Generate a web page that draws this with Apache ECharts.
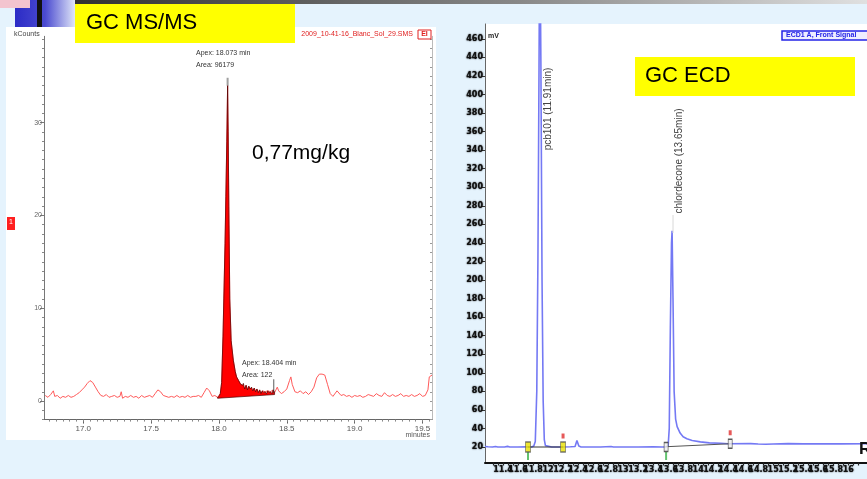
<!DOCTYPE html>
<html>
<head>
<meta charset="utf-8">
<script src="https://cdn.jsdelivr.net/npm/echarts@6.0.0/dist/echarts.min.js"></script>
<style>
html,body{margin:0;padding:0;background:#e5f3fd;}
#c{width:867px;height:479px;}
</style>
</head>
<body>
<div id="c"></div>
<script>
// ---------------- GC MS/MS trace (minutes, kCounts) ----------------
const msTime = [16.72,16.74,16.76,16.78,16.79,16.81,16.83,16.85,16.87,16.89,16.91,16.93,16.95,16.97,16.99,17.01,17.03,17.05,17.07,17.09,17.11,17.13,17.15,17.17,17.19,17.21,17.23,17.25,17.27,17.28,17.29,17.31,17.33,17.35,17.37,17.39,17.41,17.43,17.44,17.45,17.47,17.49,17.51,17.53,17.55,17.57,17.59,17.61,17.63,17.65,17.67,17.69,17.71,17.73,17.75,17.77,17.79,17.81,17.83,17.85,17.87,17.89,17.91,17.93,17.95,17.97,17.99,
18.00,18.01,18.02,18.03,18.036,18.045,18.051,18.058,18.064,18.068,18.073,18.08,18.09,18.106,18.12,18.13,18.145,18.16,18.175,18.18,18.19,18.20,18.21,18.22,18.23,18.24,18.25,18.26,18.27,18.28,18.29,18.30,18.31,18.32,18.33,18.34,18.35,18.36,18.37,18.38,18.39,18.40,18.41,
18.42,18.43,18.44,18.46,18.48,18.50,18.52,18.53,18.54,18.56,18.58,18.60,18.62,18.64,18.66,18.68,18.70,18.72,18.74,18.76,18.78,18.80,18.82,18.84,18.87,18.88,18.90,18.92,18.94,18.96,18.98,19.00,19.02,19.04,19.06,19.08,19.10,19.12,19.14,19.16,19.18,19.20,19.22,19.24,19.26,19.28,19.30,19.32,19.34,19.36,19.38,19.40,19.42,19.44,19.46,19.48,19.50,19.52,19.54,19.55,19.57];
const msSignal = [0.6,0.4,0.7,1.1,0.5,0.6,0.3,0.5,0.4,0.6,0.4,0.5,0.7,0.9,1.2,1.5,1.9,2.2,2.0,1.5,1.0,0.6,0.5,0.7,0.4,0.5,0.6,0.4,0.5,1.0,0.3,0.5,0.4,0.6,0.4,0.5,0.3,0.6,0.8,0.4,0.5,0.6,0.4,0.8,1.2,1.0,0.6,0.5,0.4,0.5,0.4,0.6,0.4,0.5,0.4,0.6,0.4,0.5,0.5,0.6,0.4,0.9,1.4,1.1,0.5,0.6,0.4,
0.5,0.8,2.0,7.0,11,17,22,28,34,29,21,11,6.5,4.4,3.2,2.6,2.2,1.8,1.7,1.9,1.3,1.7,1.2,1.6,1.3,1.5,1.1,1.4,1.0,1.3,0.9,1.2,0.8,1.1,0.9,1.0,0.8,1.1,0.9,1.0,0.8,1.2,0.9,
0.7,1.5,1.1,0.8,1.0,1.3,2.2,2.6,1.8,1.0,0.9,1.1,0.8,1.0,0.7,1.0,1.5,2.5,2.9,2.9,2.8,1.8,0.8,0.5,1.1,0.9,0.6,0.7,0.5,0.6,0.4,0.6,0.5,0.6,0.4,0.5,0.7,0.6,0.5,0.8,0.6,0.5,0.9,0.6,0.5,0.7,0.5,0.6,0.8,0.5,0.6,0.5,0.7,0.5,0.6,0.8,0.5,0.6,1.2,2.6,2.8,2.7];
const msPeakRange = [17.99, 18.41];
const msIntegrationBase = [[18.41, 0.7], [17.99, 0.3]];
const msApex = [[18.064, 34.4]];
const msApex2 = [[18.404, 1.6]];
const msXLabels = [17.0, 17.5, 18.0, 18.5, 19.0, 19.5];
const msYLabels = [0, 10, 20, 30];

// ---------------- GC ECD trace (minutes, signal) ----------------
const ecdTime = [11.16,11.20,11.26,11.30,11.33,11.42,11.46,11.49,11.60,11.70,11.78,11.81,11.83,11.85,11.865,11.88,11.89,11.905,11.92,11.935,11.95,11.965,11.98,12.05,12.20,12.30,12.36,12.385,12.41,12.44,12.70,12.84,12.87,13.20,13.40,13.52,13.56,13.60,13.615,13.63,13.645,13.653,13.665,13.68,13.70,13.72,13.76,13.80,13.85,13.92,14.03,14.15,14.30,14.40,14.70,14.80,14.90,15.00,15.20,15.40,15.60,15.90,16.25];
const ecdSignal = [20.6,20.2,20,20.6,20,20,20.7,20,20,20.2,20,21,26,80,220,430,600,430,200,70,28,21.5,20.4,20,20,20.2,20.5,27,21,20,20,20.6,20,20,20.3,20,20,21,40,150,240,253,180,80,50,42,35,31,29,27,25.5,24.5,24,23.5,23.6,23.2,23.0,23.2,23.6,23.4,23.5,23.4,23.5];
const ecdPeakNames = ['pcb101 (11.91min)', 'chlordecone (13.65min)'];
const ecdStartMarks = [[11.733, 20], [13.573, 20]];
const ecdEndMarks = [[12.2, 20], [14.427, 23.5]];
const ecdBase1 = [[11.733, 20], [12.2, 20]];
const ecdBase2 = [[13.573, 20.3], [14.427, 23.5]];
const ecdXLabels = [11.2,11.4,11.6,11.8,12.0,12.2,12.4,12.6,12.8,13.0,13.2,13.4,13.6,13.8,14.0,14.2,14.4,14.6,14.8,15.0,15.2,15.4,15.6,15.8,16.0,16.2];
const ecdYLabels = [20,40,60,80,100,120,140,160,180,200,220,240,260,280,300,320,340,360,380,400,420,440,460];

// tick helpers (positions of ruler ticks only)
function range(a, b, step) { const r = []; for (let v = a; v <= b + 1e-9; v += step) r.push(+v.toFixed(4)); return r; }
const msXMinor = range(16.75, 19.55, 0.05);
const msYMinor = range(-2, 39, 1);
const ecdXMinor = range(11.2, 16.25, 0.2 / 3);

const msData = msTime.map((t, i) => [t, msSignal[i]]);
const ecdData = ecdTime.map((t, i) => [t, ecdSignal[i]]);
const fillT = [], fillV = [];
msTime.forEach((t, i) => { if (t >= msPeakRange[0] - 1e-9 && t <= msPeakRange[1] + 1e-9) { fillT.push(t); fillV.push(msSignal[i]); } });
msIntegrationBase.forEach(p => { fillT.push(p[0]); fillV.push(p[1]); });

const FONT = 'Liberation Sans, Arial, sans-serif';
const smudge = { fontFamily: 'DejaVu Sans', fontWeight: 900, color: '#111', textShadowColor: '#000', textShadowBlur: 1.5 };

const chart = echarts.init(document.getElementById('c'), null, { renderer: 'canvas' });
chart.setOption({
  backgroundColor: '#e5f3fd',
  animation: false,
  grid: [
    { left: 44, top: 36.3, width: 388, height: 383.3, outerBoundsMode: 'none', containLabel: false },
    { left: 485, top: 24, width: 382, height: 438.5, outerBoundsMode: 'none', containLabel: false }
  ],
  xAxis: [
    { gridIndex: 0, type: 'value', position: 'bottom', min: 16.711, max: 19.57,
      axisLine: { show: true, onZero: false, lineStyle: { color: '#666', width: 1 } },
      axisTick: { show: true, customValues: msXLabels, length: 4, lineStyle: { color: '#666' } },
      axisLabel: { customValues: msXLabels, formatter: v => v.toFixed(1), fontSize: 8, color: '#555', margin: 5, fontFamily: FONT },
      splitLine: { show: false } },
    { gridIndex: 0, type: 'value', position: 'bottom', min: 16.711, max: 19.57,
      axisLine: { show: false, onZero: false }, axisLabel: { show: false }, splitLine: { show: false },
      axisTick: { show: true, customValues: msXMinor, length: 2, lineStyle: { color: '#888' } } },
    { gridIndex: 1, type: 'value', position: 'bottom', min: 11.16, max: 16.25,
      axisLine: { show: true, onZero: false, lineStyle: { color: '#111', width: 2 } },
      axisTick: { show: true, customValues: ecdXMinor, length: 3, lineStyle: { color: '#222', width: 1.2 } },
      axisLabel: Object.assign({ customValues: ecdXLabels, formatter: v => String(+v.toFixed(1)), fontSize: 8, margin: 3, hideOverlap: false }, smudge),
      splitLine: { show: false } }
  ],
  yAxis: [
    { gridIndex: 0, type: 'value', position: 'left', min: -2, max: 39.3,
      axisLine: { show: true, onZero: false, lineStyle: { color: '#777' } },
      axisTick: { show: true, customValues: msYMinor, length: 2, lineStyle: { color: '#888' } },
      axisLabel: { show: false }, splitLine: { show: false } },
    { gridIndex: 0, type: 'value', position: 'left', min: -2, max: 39.3,
      axisLine: { show: false, onZero: false },
      axisTick: { show: true, customValues: msYLabels, length: 4, lineStyle: { color: '#777' } },
      axisLabel: { customValues: msYLabels, fontSize: 7, color: '#666', margin: 2, fontFamily: FONT },
      splitLine: { show: false } },
    { gridIndex: 0, type: 'value', position: 'right', min: -2, max: 39.3,
      axisLine: { show: true, onZero: false, lineStyle: { color: '#bbb' } },
      axisTick: { show: true, inside: true, customValues: msYMinor, length: 2, lineStyle: { color: '#999' } },
      axisLabel: { show: false }, splitLine: { show: false } },
    { gridIndex: 1, type: 'value', position: 'left', min: 3.3, max: 476,
      axisLine: { show: true, onZero: false, lineStyle: { color: '#555', type: 'dotted' } },
      axisTick: { show: true, customValues: ecdYLabels, length: 3, lineStyle: { color: '#333' } },
      axisLabel: Object.assign({ customValues: ecdYLabels, fontSize: 8, margin: 2 }, smudge),
      splitLine: { show: false } }
  ],
  series: [
    { name: 'ms-fill', type: 'custom', xAxisIndex: 0, yAxisIndex: 0, data: [[fillT[0], fillV[0]]], z: 3, clip: true,
      renderItem: function (params, api) {
        const pts = fillT.map((t, i) => api.coord([t, fillV[i]]));
        return { type: 'polygon', shape: { points: pts }, style: { fill: '#ff0000', stroke: '#4a0000', lineWidth: 0.7 } };
      } },
    { name: 'ms', type: 'line', xAxisIndex: 0, yAxisIndex: 0, data: msData, symbol: 'none', z: 2,
      lineStyle: { color: '#ff5a5a', width: 1 } },
    { type: 'scatter', xAxisIndex: 0, yAxisIndex: 0, data: msApex, symbol: 'rect', symbolSize: [2, 8], itemStyle: { color: '#888' }, z: 5 },
    { type: 'scatter', xAxisIndex: 0, yAxisIndex: 0, data: msApex2, symbol: 'rect', symbolSize: [1, 14], itemStyle: { color: '#333' }, z: 5 },

    { name: 'ecd', type: 'line', xAxisIndex: 2, yAxisIndex: 3, data: ecdData, symbol: 'none', z: 2, clip: true,
      lineStyle: { color: '#7479f4', width: 1.6 } },
    { type: 'line', xAxisIndex: 2, yAxisIndex: 3, data: ecdBase1, symbol: 'none', z: 3, lineStyle: { color: '#333', width: 1 } },
    { type: 'line', xAxisIndex: 2, yAxisIndex: 3, data: ecdBase2, symbol: 'none', z: 3, lineStyle: { color: '#555', width: 1 } },
    { type: 'scatter', xAxisIndex: 2, yAxisIndex: 3, data: ecdStartMarks, symbol: 'rect', symbolSize: [2, 8], symbolOffset: [0, 9], itemStyle: { color: '#3cb44b' }, z: 4 },
    { type: 'scatter', xAxisIndex: 2, yAxisIndex: 3, data: ecdEndMarks, symbol: 'rect', symbolSize: [3, 5], symbolOffset: [0, -11], itemStyle: { color: '#e03030' }, z: 4 },
    { type: 'scatter', xAxisIndex: 2, yAxisIndex: 3, data: [ecdStartMarks[0], ecdEndMarks[0]], symbol: 'rect', symbolSize: [5, 10], itemStyle: { color: '#e8e000', borderColor: '#555', borderWidth: 1 }, z: 5 },
    { type: 'scatter', xAxisIndex: 2, yAxisIndex: 3, data: [ecdStartMarks[1], ecdEndMarks[1]], symbol: 'rect', symbolSize: [4, 9], itemStyle: { color: '#eee', borderColor: '#333', borderWidth: 1 }, z: 5 }
  ],
  graphic: [
    { type: 'rect', silent: true, z: -10, shape: { x: 0, y: 0, width: 867, height: 4 },
      style: { fill: new echarts.graphic.LinearGradient(0, 0, 1, 0, [{ offset: 0, color: '#222' }, { offset: 0.6, color: '#888' }, { offset: 1, color: '#e0e0e0' }]) } },
    { type: 'rect', silent: true, z: -9, shape: { x: 15, y: 0, width: 60, height: 27 },
      style: { fill: new echarts.graphic.LinearGradient(0, 0, 1, 0, [{ offset: 0, color: '#2b2bc6' }, { offset: 0.5, color: '#4a4ad0' }, { offset: 1, color: '#e0e6f8' }]) } },
    { type: 'rect', silent: true, z: -8, shape: { x: 0, y: 0, width: 30, height: 8 }, style: { fill: '#f3c4cf' } },
    { type: 'rect', silent: true, z: -8, shape: { x: 37, y: 0, width: 5, height: 27 }, style: { fill: '#111' } },
    { type: 'rect', silent: true, z: -5, shape: { x: 6, y: 27, width: 430, height: 413 }, style: { fill: '#ffffff' } },
    { type: 'rect', silent: true, z: -5, shape: { x: 485, y: 24, width: 382, height: 439 }, style: { fill: '#ffffff' } },
    { type: 'text', z: 50, x: 14, y: 31, style: { text: 'kCounts', font: '7px ' + FONT, fill: '#444' } },
    { type: 'text', z: 50, x: 413, y: 31, style: { text: '2009_10-41-16_Blanc_Sol_29.SMS', font: '7px ' + FONT, fill: '#e02020', textAlign: 'right' } },
    { type: 'rect', z: 50, shape: { x: 418, y: 30, width: 13, height: 9 }, style: { fill: '#fff', stroke: '#e02020', lineWidth: 1 } },
    { type: 'text', z: 51, x: 424.5, y: 31, style: { text: 'EI', font: 'bold 7px ' + FONT, fill: '#e02020', textAlign: 'center' } },
    { type: 'rect', z: 50, shape: { x: 7, y: 217, width: 8, height: 13 }, style: { fill: '#ff2020' } },
    { type: 'text', z: 51, x: 11, y: 219, style: { text: '1', font: '7px ' + FONT, fill: '#fff', textAlign: 'center' } },
    { type: 'text', z: 50, x: 196, y: 50, style: { text: 'Apex: 18.073 min', font: '7px ' + FONT, fill: '#333' } },
    { type: 'text', z: 50, x: 196, y: 62, style: { text: 'Area: 96179', font: '7px ' + FONT, fill: '#333' } },
    { type: 'text', z: 50, x: 242, y: 360, style: { text: 'Apex: 18.404 min', font: '7px ' + FONT, fill: '#333' } },
    { type: 'text', z: 50, x: 242, y: 372, style: { text: 'Area: 122', font: '7px ' + FONT, fill: '#333' } },
    { type: 'text', z: 50, x: 430, y: 432, style: { text: 'minutes', font: '7px ' + FONT, fill: '#555', textAlign: 'right' } },
    { type: 'text', z: 60, x: 252, y: 143, style: { text: '0,77mg/kg', font: '21px ' + FONT, fill: '#000' } },
    { type: 'rect', z: 60, shape: { x: 75, y: 4, width: 220, height: 39 }, style: { fill: '#ffff00' } },
    { type: 'text', z: 61, x: 86, y: 12, style: { text: 'GC MS/MS', font: '22px ' + FONT, fill: '#000' } },
    { type: 'rect', z: 60, shape: { x: 635, y: 57, width: 220, height: 39 }, style: { fill: '#ffff00' } },
    { type: 'text', z: 61, x: 645, y: 65, style: { text: 'GC ECD', font: '22px ' + FONT, fill: '#000' } },
    { type: 'text', z: 50, x: 548, y: 109, rotation: Math.PI / 2, style: { text: ecdPeakNames[0], font: '10px ' + FONT, fill: '#444', textAlign: 'center', textVerticalAlign: 'middle' } },
    { type: 'text', z: 50, x: 679, y: 161, rotation: Math.PI / 2, style: { text: ecdPeakNames[1], font: '10px ' + FONT, fill: '#444', textAlign: 'center', textVerticalAlign: 'middle' } },
    { type: 'line', z: 50, shape: { x1: 673, y1: 215, x2: 673, y2: 233 }, style: { stroke: '#d8d8d8', lineWidth: 1 } },
    { type: 'rect', z: 50, shape: { x: 782, y: 31, width: 90, height: 9 }, style: { fill: '#eef', stroke: '#2424e8', lineWidth: 1.5 } },
    { type: 'text', z: 51, x: 786, y: 32, style: { text: 'ECD1 A, Front Signal', font: 'bold 7px ' + FONT, fill: '#2424e8' } },
    { type: 'text', z: 50, x: 859, y: 441, style: { text: 'R', font: 'bold 17px ' + FONT, fill: '#111' } },
    { type: 'text', z: 50, x: 488, y: 33, style: { text: 'mV', font: 'bold 7px ' + FONT, fill: '#222' } }
  ]
});
</script>
</body>
</html>
